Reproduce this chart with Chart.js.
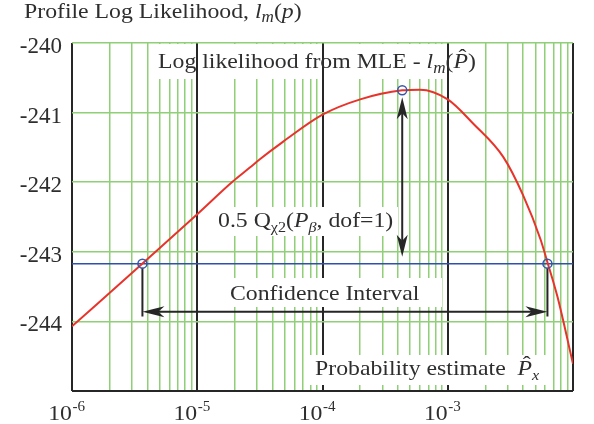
<!DOCTYPE html>
<html>
<head>
<meta charset="utf-8">
<script src="https://cdn.jsdelivr.net/npm/chart.js@4.4.0/dist/chart.umd.min.js"></script>
<style>
  html, body { margin: 0; padding: 0; background: #fff; }
  canvas { display: block; }
</style>
</head>
<body>
<canvas id="likelihoodChart" width="594" height="424"></canvas>
<script>
// Profile log likelihood vs probability
const probValues = [1e-6, 3.6e-6, 1e-5, 1.92e-5, 2.63e-5, 3.16e-5, 4.83e-5, 1e-4, 2e-4, 4.33e-4, 6e-4,
  1e-3, 1.6e-3, 2.78e-3, 4e-3, 5.5e-3, 6.25e-3, 7.5e-3, 1e-2];
const logLikValues = [-244.07, -243.18, -242.46, -241.99, -241.79, -241.67, -241.42, -241.03, -240.81, -240.68, -240.67,
  -240.81, -241.16, -241.64, -242.19, -242.82, -243.15, -243.64, -244.61];

// marked points
const mle = { p: 4.33e-4, ll: -240.68 };
const threshold = -243.17;
const ciLow = 3.65e-6;
const ciHigh = 6.25e-3;
const arrowLevel = -243.86;
const dropBottom = -243.93;

// axes
const xDecades = [-6, -5, -4, -3, -2];
const yTicks = [-245, -244, -243, -242, -241, -240];

const serif = '"Liberation Serif", "Times New Roman", serif';
const green = '#8fcf78';
const dark = '#262626';
const textColor = '#2e2e2e';
const stretch = 1.08; // the figure's type is a little wider than Liberation Serif

function isDecade(v) {
  const l = Math.log10(v);
  return Math.abs(l - Math.round(l)) < 1e-9;
}

const xGrid = [];
xDecades.forEach(e => {
  for (let m = 1; m <= 9; m++) {
    if (e === xDecades[xDecades.length - 1] && m > 1) break;
    xGrid.push(m * Math.pow(10, e));
  }
});

// draw a line of mixed text (italic / sub pieces), stretched horizontally
function drawRuns(c, runs, x0, y, size) {
  c.save();
  c.translate(x0, y);
  c.scale(stretch, 1);
  c.textAlign = 'left';
  c.textBaseline = 'alphabetic';
  let x = 0;
  runs.forEach(r => {
    const s = size * (r.s || 1);
    c.font = (r.i ? 'italic ' : '') + s + 'px ' + serif;
    c.fillText(r.t, x, r.dy || 0);
    const w = c.measureText(r.t).width;
    if (r.hat) {
      c.textAlign = 'center';
      c.font = s + 'px ' + serif;
      c.fillText('\u02C6', x + w * 0.62, -s * 0.2);
      c.textAlign = 'left';
    }
    x += w;
  });
  c.restore();
  return x0 + x * stretch;
}

function arrowHead(c, x, y, dx, dy, len, half) {
  const bx = x - dx * len, by = y - dy * len;
  const px = -dy, py = dx;
  c.beginPath();
  c.moveTo(x, y);
  c.lineTo(bx + px * half, by + py * half);
  c.lineTo(x - dx * len * 0.72, y - dy * len * 0.72);
  c.lineTo(bx - px * half, by - py * half);
  c.closePath();
  c.fill();
}

const annotations = {
  id: 'annotations',
  beforeDatasetsDraw(chart) {
    const c = chart.ctx;
    const xs = chart.scales.x, ys = chart.scales.y;
    c.save();

    // white label boxes over the grid
    const boxes = [
      [152, 44, 332, 35],
      [210, 207, 188, 29],
      [200, 278, 242, 29],
      [308, 355, 238, 30]
    ];
    c.fillStyle = '#fff';
    boxes.forEach(b => c.fillRect(b[0], b[1], b[2], b[3]));

    // decade lines stay visible through the top label
    c.strokeStyle = dark;
    c.lineWidth = 2;
    [1e-5, 1e-4, 1e-3].forEach(v => {
      const px = Math.round(xs.getPixelForValue(v));
      c.beginPath();
      c.moveTo(px, 44);
      c.lineTo(px, 79);
      c.stroke();
    });

    c.fillStyle = textColor;
    drawRuns(c, [
      { t: 'Log likelihood from MLE - ' },
      { t: 'l', i: 1 },
      { t: 'm', i: 1, s: 0.72, dy: 5 },
      { t: '(' },
      { t: 'P', i: 1, hat: 1 },
      { t: ')' }
    ], 158, 68, 22);

    drawRuns(c, [
      { t: '0.5 Q' },
      { t: '\u03C72', s: 0.68, dy: 5 },
      { t: '(' },
      { t: 'P', i: 1 },
      { t: '\u03B2', i: 1, s: 0.68, dy: 5 },
      { t: ', dof=1)' }
    ], 218, 227, 22);

    drawRuns(c, [{ t: 'Confidence Interval' }], 230, 300, 22);

    drawRuns(c, [
      { t: 'Probability estimate  ' },
      { t: 'P', i: 1, hat: 1 },
      { t: 'x', i: 1, s: 0.68, dy: 5 }
    ], 315, 375, 22);

    // arrows
    c.strokeStyle = dark;
    c.fillStyle = dark;
    c.lineWidth = 2;
    const xm = xs.getPixelForValue(mle.p);
    const yTop = ys.getPixelForValue(mle.ll) + 7;
    const yBot = ys.getPixelForValue(threshold) - 7;
    c.beginPath();
    c.moveTo(xm, yTop + 10);
    c.lineTo(xm, yBot - 10);
    c.stroke();
    arrowHead(c, xm, yTop, 0, -1, 22, 5.5);
    arrowHead(c, xm, yBot, 0, 1, 22, 5.5);

    const xl = xs.getPixelForValue(ciLow);
    const xr = xs.getPixelForValue(ciHigh);
    const yt = ys.getPixelForValue(threshold) + 4;
    const ya = ys.getPixelForValue(arrowLevel);
    const yd = ys.getPixelForValue(dropBottom);
    c.beginPath();
    c.moveTo(xl, yt); c.lineTo(xl, yd);
    c.moveTo(xr, yt); c.lineTo(xr, yd);
    c.moveTo(xl + 10, ya); c.lineTo(xr - 10, ya);
    c.stroke();
    arrowHead(c, xl, ya, -1, 0, 22, 5.5);
    arrowHead(c, xr, ya, 1, 0, 22, 5.5);
    c.restore();
  },
  afterDraw(chart) {
    const c = chart.ctx;
    const xs = chart.scales.x;
    c.save();
    c.fillStyle = textColor;
    // y axis title
    drawRuns(c, [
      { t: 'Profile Log Likelihood, ' },
      { t: 'l', i: 1 },
      { t: 'm', i: 1, s: 0.72, dy: 4 },
      { t: '(' },
      { t: 'p', i: 1 },
      { t: ')' }
    ], 24, 18, 22);
    // x tick labels as powers of ten
    xDecades.slice(0, 4).forEach(e => {
      const px = xs.getPixelForValue(Math.pow(10, e));
      c.save();
      c.translate(px, 420);
      c.scale(stretch, 1);
      c.font = '22px ' + serif;
      c.textAlign = 'right';
      c.fillText('10', 0, 0);
      c.textAlign = 'left';
      c.font = '14px ' + serif;
      c.fillText(String(e), 0.5, -9);
      c.restore();
    });
    c.restore();
  }
};

const ctx = document.getElementById('likelihoodChart').getContext('2d');
const likelihoodChart = new Chart(ctx, {
  type: 'line',
  data: {
    datasets: [{
      label: 'Marked points',
      data: [
        { x: ciLow, y: threshold },
        { x: mle.p, y: mle.ll },
        { x: ciHigh, y: threshold }
      ],
      showLine: false,
      pointRadius: 4.5,
      pointBorderWidth: 1.5,
      pointBorderColor: '#3656a8',
      pointBackgroundColor: 'rgba(0,0,0,0)'
    }, {
      label: 'Profile log likelihood',
      data: probValues.map((p, i) => ({ x: p, y: logLikValues[i] })),
      borderColor: '#e8332b',
      borderWidth: 2,
      pointRadius: 0,
      cubicInterpolationMode: 'monotone'
    }, {
      label: 'Threshold',
      data: [{ x: 1e-6, y: threshold }, { x: 1e-2, y: threshold }],
      borderColor: '#2f50ab',
      borderWidth: 1.5,
      pointRadius: 0
    }]
  },
  options: {
    responsive: false,
    animation: false,
    layout: { padding: { top: 43, right: 21, left: 0, bottom: 0 } },
    plugins: {
      legend: { display: false },
      tooltip: { enabled: false }
    },
    scales: {
      x: {
        type: 'logarithmic',
        min: 1e-6,
        max: 1e-2,
        afterBuildTicks: s => { s.ticks = xGrid.map(v => ({ value: v })); },
        afterFit: s => { s.height = 33; },
        ticks: { display: false },
        border: { display: false },
        grid: {
          drawTicks: false,
          color: c => isDecade(c.tick.value) ? dark : green,
          lineWidth: c => isDecade(c.tick.value) ? 2 : 1.5
        }
      },
      y: {
        type: 'linear',
        min: -245,
        max: -240,
        afterBuildTicks: s => { s.ticks = yTicks.map(v => ({ value: v })); },
        afterFit: s => { s.width = 72; },
        border: { display: false },
        ticks: {
          color: textColor,
          font: { family: serif, size: 23 },
          padding: 10,
          labelOffset: 4,
          callback: v => v === -245 ? '' : String(v)
        },
        grid: {
          drawTicks: false,
          color: c => c.tick.value === -245 ? dark : green,
          lineWidth: c => c.tick.value === -245 ? 2 : 1.5
        }
      }
    }
  },
  plugins: [annotations]
});
</script>
</body>
</html>
